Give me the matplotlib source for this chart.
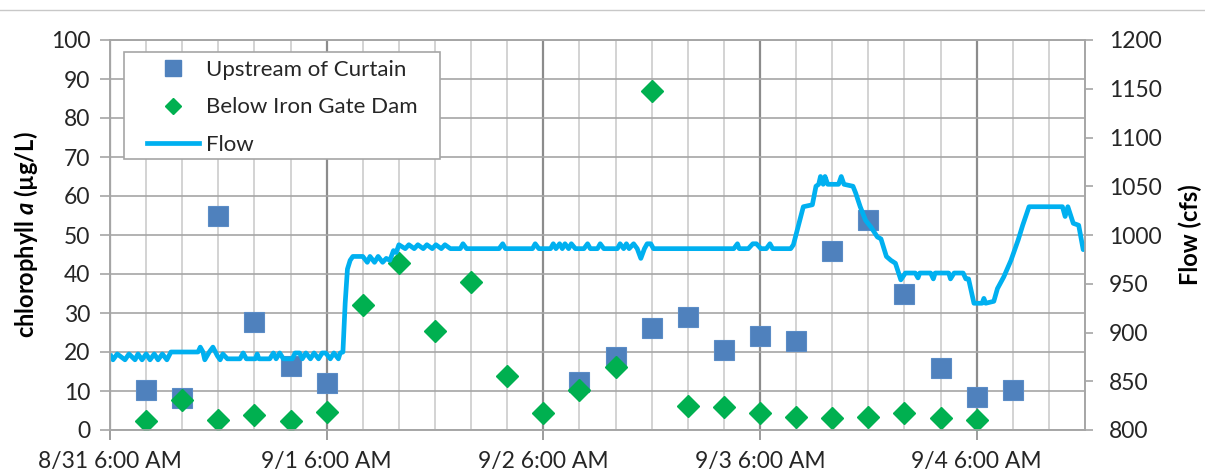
import matplotlib
matplotlib.use("Agg")
import matplotlib.pyplot as plt
from matplotlib.lines import Line2D
from matplotlib.patches import Rectangle

plt.rcParams['font.family'] = ['Lato', 'DejaVu Sans']
plt.rcParams['mathtext.fontset'] = 'custom'
plt.rcParams['mathtext.it'] = 'Lato:italic:bold'
plt.rcParams['mathtext.rm'] = 'Lato:bold'

# hours after 8/31 6:00 AM
tick_hours = [0, 24, 48, 72, 96]
tick_labels = ['8/31 6:00 AM', '9/1 6:00 AM', '9/2 6:00 AM', '9/3 6:00 AM', '9/4 6:00 AM']

up_hours = [4, 8, 12, 16, 20, 24, 52, 56, 60, 64, 68, 72, 76, 80, 84, 88, 92, 96, 100]
up_chl = [10.3, 8.1, 54.9, 27.8, 16.4, 12.0, 12.4, 18.8, 26.1, 29.1, 20.5, 24.1,
          22.7, 45.8, 53.8, 35.0, 16.0, 8.5, 10.3]

dam_hours = [4, 8, 12, 16, 20, 24, 28, 32, 36, 40, 44, 48, 52, 56, 60, 64, 68, 72,
             76, 80, 84, 88, 92, 96]
dam_chl = [2.4, 7.7, 2.6, 3.8, 2.3, 4.7, 32.0, 42.9, 25.4, 38.0, 13.8, 4.3, 10.3,
           16.2, 87.0, 6.2, 6.0, 4.3, 3.3, 3.0, 3.3, 4.3, 3.0, 2.6]

flow_hours = [
    0, 0.33, 0.8, 1.66, 2.1, 2.77, 3.1, 3.55, 4.0, 4.43, 4.9, 5.32, 5.8, 6.3, 6.75,
    9.75, 10.0, 10.3, 10.5, 11.0, 11.4, 11.9, 12.2, 12.5, 13.0,
    14.4, 14.75, 15.1, 16.1, 16.3, 16.5, 17.7, 18.1, 18.4, 18.8, 19.2,
    20.2, 20.5, 21.0, 21.3, 21.7, 22.2, 22.6, 23.1, 23.5, 23.9, 24.4, 24.8, 25.3, 25.5,
    25.8, 26.05, 26.3, 26.6, 26.9,
    28.0, 28.5, 28.8, 29.3, 29.7, 30.2, 30.6, 31.0, 31.4, 31.7, 32.0,
    32.7, 33.1, 33.7, 34.1, 34.7, 35.1, 35.7, 36.1, 36.7, 37.1, 37.7, 38.0,
    38.8, 39.1, 39.5, 43.1, 43.5, 43.8, 46.8, 47.1, 47.5,
    48.8, 49.1, 49.4, 49.8, 50.1, 50.4, 50.8, 51.1, 51.55,
    52.5, 52.9, 53.2, 54.0, 54.3, 54.7,
    56.2, 56.5, 56.9, 57.2, 57.5, 58.0, 58.4, 58.8, 59.2, 59.5, 59.9, 60.2,
    69.1, 69.5, 69.7, 70.7, 71.2, 71.6, 72.1, 72.7, 73.1, 73.4, 75.4,
    75.7, 76.8, 77.8, 78.2, 78.5, 78.7, 79.0, 79.2, 79.5, 80.7, 81.0, 81.3,
    82.3, 82.6, 83.1, 83.7, 84.3, 85.0, 85.4, 86.0, 86.5, 87.0, 87.6, 88.1,
    89.2, 89.5, 89.7, 90.9, 91.2, 91.4, 92.9, 93.1, 93.5, 94.5, 94.8, 95.1,
    95.7, 96.6, 96.8, 97.0, 97.9, 98.3, 99.0, 99.8, 100.6, 101.1, 101.8,
    105.5, 105.8, 106.1, 106.7, 107.3, 107.8, 108.1]
flow_cfs = [
    878, 872, 878, 872, 878, 872, 878, 872, 878, 872, 878, 872, 878, 872, 880,
    880, 885, 880, 872, 880, 885, 876, 872, 878, 873,
    873, 879, 873, 873, 878, 873, 873, 879, 873, 879, 873,
    873, 879, 879, 873, 879, 873, 879, 873, 879, 879, 873, 879, 873, 879,
    880, 930, 965, 974, 978,
    978, 972, 978, 972, 978, 972, 976, 974, 984, 982, 990,
    986, 990, 986, 990, 986, 990, 986, 990, 986, 990, 986, 986,
    986, 991, 986, 986, 991, 986, 986, 991, 986,
    986, 991, 986, 991, 986, 991, 986, 991, 986,
    986, 991, 986, 986, 991, 986,
    986, 991, 986, 991, 986, 991, 986, 976, 986, 991, 991, 986,
    986, 991, 986, 986, 991, 991, 986, 986, 991, 986, 986,
    990, 1029, 1031, 1050, 1052, 1060, 1052, 1060, 1052, 1052, 1060, 1052,
    1050, 1043, 1029, 1015, 1008, 998, 996, 978, 974, 971, 954, 961,
    961, 956, 961, 961, 955, 961, 961, 955, 961, 961, 955, 955,
    930, 930, 935, 930, 932, 945, 957, 974, 995, 1010, 1029,
    1029, 1019, 1029, 1012, 1010, 985, 992]

blue = '#4F81BD'
green = '#00B050'
cyan = '#00B0F0'
txt = '#262626'

W, H = 1205, 476
fig = plt.figure(figsize=(W / 100, H / 100), dpi=100)
ax = fig.add_axes([110 / W, 1 - 430 / H, 975 / W, 390 / H])
ax2 = ax.twinx()

ax.plot(up_hours, up_chl, ls='none', marker='s', ms=14, color=blue, mec='#5b8cc6', mew=0.8, zorder=3)
ax.plot(dam_hours, dam_chl, ls='none', marker='D', ms=11, color=green, mec=green, zorder=4)
ax2.plot(flow_hours, flow_cfs, color=cyan, lw=3.4, solid_joinstyle='round', solid_capstyle='butt')

ax.set_xlim(0, 108)
ax.set_ylim(0, 100)
ax2.set_ylim(800, 1200)
ax.set_yticks(range(0, 101, 10))
ax2.set_yticks(range(800, 1201, 50))
ax.set_xticks(tick_hours)
ax.set_xticklabels(tick_labels)
ax.set_xticks(range(0, 109, 4), minor=True)

ax.grid(axis='x', which='minor', color='#cccccc', lw=1.2)
ax.grid(axis='x', which='major', color='#8c8c8c', lw=1.6)
ax.grid(axis='y', which='major', color='#a6a6a6', lw=1.2)
ax.set_axisbelow(True)

for a in (ax, ax2):
    for s in a.spines.values():
        s.set_color('#a6a6a6')
        s.set_linewidth(1.2)
ax.tick_params(axis='x', which='minor', length=0)
ax.tick_params(axis='x', which='major', length=7, width=1.2, color='#8c8c8c',
               labelsize=16.5, labelcolor=txt, pad=8)
ax.tick_params(axis='y', length=7, width=1.2, color='#a6a6a6', labelsize=16.5,
               labelcolor=txt, pad=7)
ax2.tick_params(axis='y', length=6, width=1.2, color='#a6a6a6', labelsize=16.5,
                labelcolor=txt, pad=11)

ax.set_ylabel('chlorophyll $a$ (µg/L)', fontsize=17, fontweight='bold', color='black', labelpad=8)
ax2.set_ylabel('Flow (cfs)', fontsize=17, fontweight='bold', color='black', rotation=90, labelpad=12)

# legend box
fig.add_artist(Rectangle((124 / W, 1 - 159 / H), 316 / W, 107 / H, transform=fig.transFigure,
                         facecolor='white', edgecolor='#a6a6a6', lw=1.2, zorder=4))
handles = [Line2D([], [], ls='none', marker='s', ms=11, color=blue),
           Line2D([], [], ls='none', marker='D', ms=8, color=green),
           Line2D([], [], color=cyan, lw=3.4)]
fig.legend(handles, ['Upstream of Curtain', 'Below Iron Gate Dam', 'Flow'],
           loc='upper left', bbox_to_anchor=(147 / W, 1 - 60 / H), frameon=False,
           borderpad=0, borderaxespad=0, fontsize=16, labelcolor=txt,
           handlelength=2.35, handletextpad=0.3, labelspacing=0.78)

# thin rule at top of the image
fig.add_artist(Line2D([0, 1], [1 - 10 / H, 1 - 10 / H], transform=fig.transFigure,
                      color='#c8c8c8', lw=1))

fig.savefig('out.png', dpi=100)
